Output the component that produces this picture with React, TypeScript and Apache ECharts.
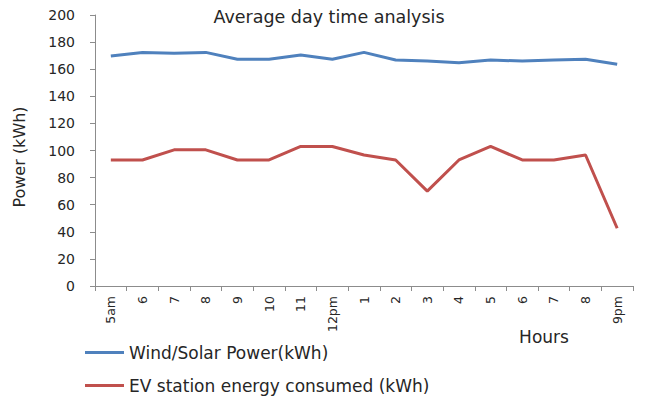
import React, { useEffect, useRef } from "react";
import * as echarts from "echarts";

const categories = ["5am", "6", "7", "8", "9", "10", "11", "12pm", "1", "2", "3", "4", "5", "6", "7", "8", "9pm"];
const windSolar = [169.8, 172.4, 171.7, 172.4, 167.3, 167.3, 170.5, 167.3, 172.4, 166.8, 166, 164.8, 166.8, 166, 166.8, 167.3, 163.6];
const evConsumed = [93, 93, 100.5, 100.5, 93, 93, 103, 103, 96.7, 93, 70, 93, 103, 93, 93, 96.7, 42.6];
const seriesNames = ["Wind/Solar Power(kWh)", "EV station energy consumed (kWh)"];
const colors = ["#4F81BD", "#C0504D"];

const FONT = "DejaVu Sans";
const TXT = "#262626";

export default function App() {
  const ref = useRef<HTMLDivElement>(null);
  useEffect(() => {
    const chart = echarts.init(ref.current!, null, { renderer: "svg" });
    const legendBase = {
      orient: "horizontal",
      left: 85,
      padding: 0,
      itemWidth: 39,
      itemHeight: 3,
      icon: "rect",
      textStyle: { fontFamily: FONT, fontSize: 17, color: TXT },
    };
    chart.setOption({
      animation: false,
      textStyle: { fontFamily: FONT },
      title: {
        text: "Average day time analysis",
        left: 324,
        textAlign: "center",
        top: 3,
        textStyle: { fontFamily: FONT, fontSize: 17.5, fontWeight: "normal", color: TXT },
      },
      legend: [
        { ...legendBase, top: 344, data: [seriesNames[0]] },
        { ...legendBase, top: 377, data: [seriesNames[1]] },
      ],
      grid: { left: 95, right: 12, top: 15, bottom: 115, containLabel: false },
      xAxis: {
        type: "category",
        data: categories,
        boundaryGap: true,
        axisLine: { lineStyle: { color: "#8c8c8c", width: 1 } },
        axisTick: { show: true, length: 5, lineStyle: { color: "#8c8c8c" } },
        axisLabel: { rotate: 90, fontFamily: FONT, fontSize: 12.5, color: TXT, margin: 10, interval: 0 },
      },
      yAxis: {
        type: "value",
        min: 0,
        max: 200,
        interval: 20,
        splitLine: { show: false },
        axisLine: { show: true, lineStyle: { color: "#8c8c8c", width: 1 } },
        axisTick: { show: true, length: 5, lineStyle: { color: "#8c8c8c" } },
        axisLabel: { fontFamily: FONT, fontSize: 14, color: TXT, margin: 20 },
      },
      graphic: [
        {
          type: "text",
          x: 11,
          y: 157,
          rotation: Math.PI / 2,
          style: {
            text: "Power (kWh)",
            fontFamily: FONT,
            fontSize: 16,
            fill: TXT,
            align: "center",
            verticalAlign: "top",
          },
        },
        {
          type: "text",
          x: 544,
          y: 337,
          style: {
            text: "Hours",
            fontFamily: FONT,
            fontSize: 17,
            fill: TXT,
            align: "center",
            verticalAlign: "middle",
          },
        },
      ],
      series: [
        {
          name: seriesNames[0],
          type: "line",
          data: windSolar,
          symbol: "none",
          lineStyle: { color: colors[0], width: 3 },
          itemStyle: { color: colors[0] },
        },
        {
          name: seriesNames[1],
          type: "line",
          data: evConsumed,
          symbol: "none",
          lineStyle: { color: colors[1], width: 3 },
          itemStyle: { color: colors[1] },
        },
      ],
    });
    return () => chart.dispose();
  }, []);
  return <div ref={ref} style={{ width: 645, height: 401, position: "absolute", left: 0, top: 0 }} />;
}
